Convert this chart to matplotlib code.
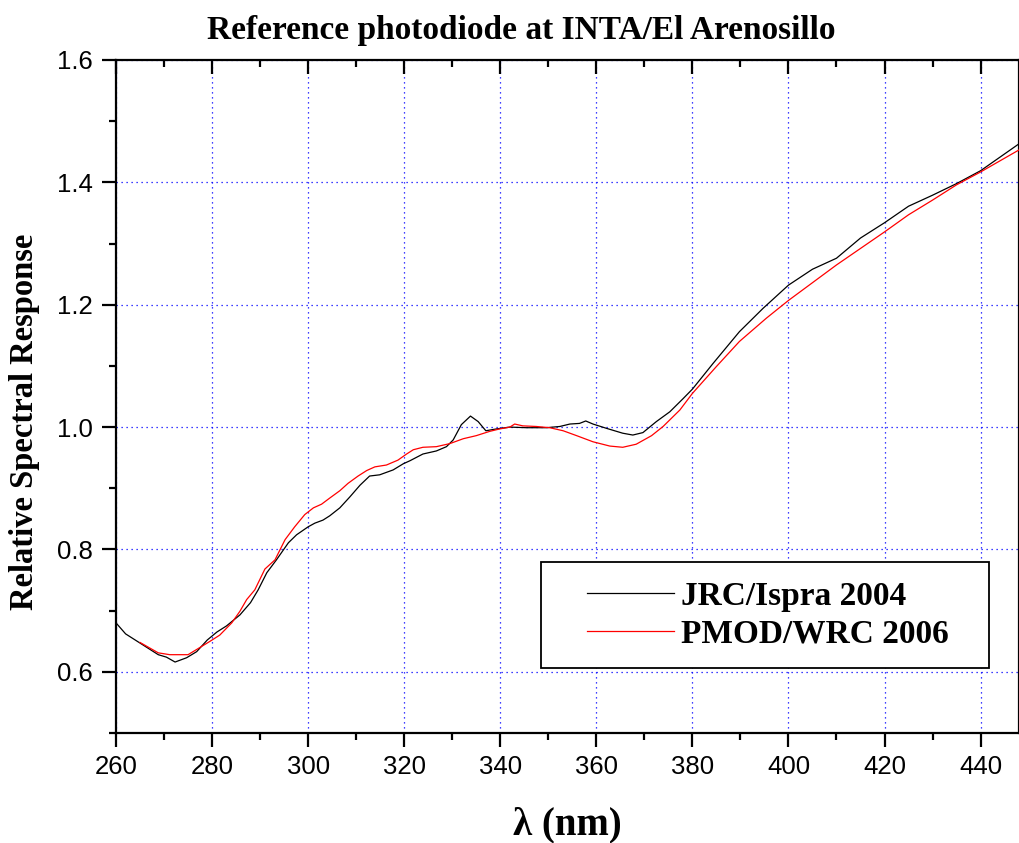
import matplotlib
matplotlib.use('Agg')
import matplotlib.pyplot as plt
from matplotlib.patches import Rectangle
from matplotlib.ticker import MultipleLocator

# JRC/Ispra 2004
jrc_wl = [260, 262, 265, 268.8, 270.5, 272.3, 274.7, 276.8, 279, 281, 283, 285.8, 288,
          289.6, 291.4, 293.4, 295.9, 297.6, 300, 301.4, 303.1, 304.5, 306.6, 308.7,
          310.8, 312.8, 314.9, 317.7, 319.8, 321.2, 323.9, 326.7, 328.8, 330.2, 331.9,
          333.8, 335.4, 337, 339.2, 342, 345.5, 349.6, 352.4, 354.5, 356.5, 357.8,
          359.3, 362.1, 365.5, 367.6, 369.7, 372.5, 375.3, 378, 380, 384.3, 389.8,
          394.7, 400, 405, 410, 415, 420, 425, 430, 435, 440, 444, 448]
jrc_resp = [0.680, 0.662, 0.647, 0.628, 0.624, 0.616, 0.623, 0.633, 0.652, 0.665, 0.675,
            0.693, 0.713, 0.734, 0.762, 0.783, 0.811, 0.824, 0.837, 0.843, 0.848, 0.855,
            0.868, 0.886, 0.905, 0.920, 0.922, 0.930, 0.940, 0.945, 0.956, 0.961, 0.968,
            0.979, 1.004, 1.018, 1.009, 0.994, 0.997, 1.000, 0.999, 0.999, 1.001, 1.005,
            1.006, 1.010, 1.005, 0.998, 0.990, 0.987, 0.991, 1.009, 1.025, 1.046, 1.062,
            1.104, 1.156, 1.194, 1.232, 1.258, 1.276, 1.309, 1.334, 1.361, 1.379, 1.398,
            1.419, 1.441, 1.463]

# PMOD/WRC 2006
pmod_wl = [265, 268.8, 271.2, 275, 277.1, 279.6, 281.6, 284.1, 285.8, 287.2, 288.9, 291,
           293.1, 295.2, 297.2, 299.3, 301.1, 302.8, 304.5, 306.6, 308.3, 310.4, 312.2,
           313.9, 316.3, 318.7, 320.5, 321.9, 323.9, 326.7, 329.5, 332.3, 335, 337.8,
           339.9, 342, 343, 344.7, 347.5, 350.3, 353.1, 355.9, 359.3, 362.8, 365.5,
           368.3, 371.5, 373.9, 377.4, 380, 385, 389.8, 395.4, 400, 405, 410, 415, 420,
           425, 430, 435, 440, 448]
pmod_resp = [0.648, 0.631, 0.628, 0.628, 0.638, 0.650, 0.660, 0.680, 0.699, 0.718, 0.734,
             0.768, 0.783, 0.816, 0.837, 0.857, 0.868, 0.874, 0.884, 0.896, 0.908, 0.920,
             0.929, 0.935, 0.938, 0.946, 0.956, 0.963, 0.967, 0.968, 0.973, 0.981, 0.986,
             0.993, 0.997, 1.000, 1.005, 1.002, 1.001, 0.999, 0.994, 0.986, 0.976, 0.969,
             0.967, 0.972, 0.986, 1.001, 1.028, 1.055, 1.099, 1.140, 1.178, 1.207, 1.236,
             1.265, 1.292, 1.319, 1.347, 1.371, 1.396, 1.417, 1.453]

SERIF = 'Liberation Serif'
SANS = 'Liberation Sans'

fig = plt.figure(figsize=(10.2, 8.43), dpi=100)
ax = fig.add_axes([116 / 1020, 110 / 843, 903 / 1020, 673 / 843])

ax.plot(jrc_wl, jrc_resp, color='black', lw=0.9, label='JRC/Ispra 2004', zorder=3)
ax.plot(pmod_wl, pmod_resp, color='red', lw=0.9, label='PMOD/WRC 2006', zorder=3)

ax.set_xlim(260, 448)
ax.set_ylim(0.5, 1.6)
ax.xaxis.set_major_locator(MultipleLocator(20))
ax.xaxis.set_minor_locator(MultipleLocator(10))
ax.yaxis.set_major_locator(MultipleLocator(0.2))
ax.yaxis.set_minor_locator(MultipleLocator(0.1))
ax.yaxis.set_major_formatter(matplotlib.ticker.FormatStrFormatter('%.1f'))

ax.grid(True, which='major', color='blue', linestyle=(0, (1, 3)), lw=0.9)

for s in ax.spines.values():
    s.set_linewidth(1.6)

ax.tick_params(which='both', direction='out', top=True, right=True, width=1.6,
               labelsize=18.5)
ax.tick_params(which='major', length=10)
ax.tick_params(which='minor', length=5)
ax.tick_params(axis='x', which='major', pad=6)
ax.tick_params(axis='y', which='major', pad=7)
# top and right ticks point inward
for t in ax.xaxis.get_major_ticks() + ax.xaxis.get_minor_ticks():
    t.tick2line.set_marker(3)
for t in ax.yaxis.get_major_ticks():
    t.tick2line.set_marker(1)
ax.yaxis.set_tick_params(which='minor', right=False)
for lab in ax.get_xticklabels() + ax.get_yticklabels():
    lab.set_fontfamily(SANS)

# legend frame
ax.add_patch(Rectangle((0.471, 0.096), 0.496, 0.158, transform=ax.transAxes,
                       facecolor='white', edgecolor='black', lw=1.3, zorder=4))
leg = ax.legend(loc='center left', bbox_to_anchor=(0.503, 0.175), frameon=False,
                prop={'family': SERIF, 'weight': 'bold', 'size': 24},
                handlelength=2.6, handletextpad=0.22, labelspacing=0.22, borderpad=0)
leg.set_zorder(5)

fig.text(521 / 1020, 1 - 30 / 843, 'Reference photodiode at INTA/El Arenosillo',
         family=SERIF, weight='bold', size=24, ha='center', va='center')
fig.text(567 / 1020, 18 / 843, 'λ (nm)', family=SERIF, weight='bold', size=28,
         ha='center', va='center')
fig.text(25 / 1020, 421 / 843, 'Relative Spectral Response', family=SERIF,
         weight='bold', size=23.5, ha='center', va='center', rotation=90)

fig.savefig('out.png', dpi=100)
